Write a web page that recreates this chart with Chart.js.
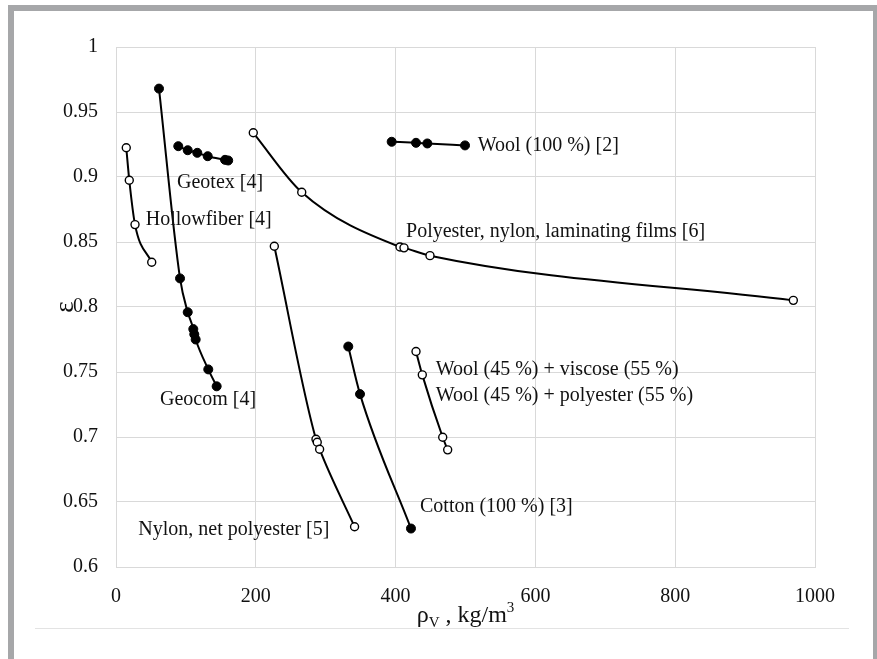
<!DOCTYPE html>
<html><head><meta charset="utf-8">
<script src="https://cdn.jsdelivr.net/npm/chart.js@4.4.1/dist/chart.umd.min.js"></script>
<style>
html,body{margin:0;padding:0;background:#fff;width:877px;height:659px;overflow:hidden;}
#frame{position:absolute;left:8px;top:5px;width:871px;height:720px;border:6px solid #a6a7a9;box-sizing:border-box;}
#rule{position:absolute;left:35px;top:628px;width:814px;height:1px;background:#e3e3e3;}
canvas{position:absolute;left:0;top:0;}
</style></head><body>
<div id="frame"></div><div id="rule"></div>
<canvas id="c" width="877" height="659"></canvas>
<script>
// ---- tick labels ----
const xTicks = [0, 200, 400, 600, 800, 1000];
const yTicks = [0.6, 0.65, 0.7, 0.75, 0.8, 0.85, 0.9, 0.95, 1];

// ---- series (x: density kg/m3, y: porosity) ----
const geocomX = [61.5, 91.6, 102.6, 110.6, 112, 114, 132, 144];
const geocomY = [0.968, 0.822, 0.796, 0.783, 0.779, 0.775, 0.752, 0.739];

const geotexX = [89.1, 102.6, 116.3, 131.2, 156, 160.5];
const geotexY = [0.9237, 0.9206, 0.9186, 0.916, 0.9132, 0.9127];

const hollowX = [14.7, 19.0, 27.2, 51.1];
const hollowY = [0.9225, 0.8975, 0.8634, 0.8344];

const polyX = [196.4, 265.7, 406.3, 412, 449.2, 969];
const polyY = [0.934, 0.8883, 0.8462, 0.8455, 0.8395, 0.8051];

const wool100X = [394.4, 429.2, 445.4, 499.3];
const wool100Y = [0.9271, 0.9263, 0.9258, 0.9243];

const nylonX = [226.5, 286.1, 287.9, 291.3, 341.3];
const nylonY = [0.8467, 0.6983, 0.696, 0.6906, 0.631];

const cottonX = [332.3, 349.1, 422];
const cottonY = [0.7696, 0.733, 0.6296];

const woolBlendX = [429.2, 438.2, 467.4, 474.5];
const woolBlendY = [0.7658, 0.7478, 0.6998, 0.6901];

// ---- annotation texts and their anchors (data units) ----
const labelTexts = ['Geotex [4]', 'Hollowfiber [4]', 'Geocom [4]', 'Wool (100 %) [2]',
  'Polyester, nylon, laminating films [6]', 'Wool (45 %) + viscose (55 %)',
  'Wool (45 %) + polyester (55 %)', 'Cotton (100 %) [3]', 'Nylon, net polyester [5]'];
const labelX = [87.3, 42.5, 62.9, 517.4, 414.9, 457.4, 457.4, 434.9, 305.2];
const labelY = [0.8958, 0.8673, 0.7286, 0.9243, 0.8582, 0.7517, 0.7319, 0.6464, 0.6284];
const labelAlign = ['left','left','left','left','left','left','left','left','right'];

const FONT = "'Liberation Serif', 'Times New Roman', serif";

function pts(xs, ys) { return xs.map((x, i) => ({x: x, y: ys[i]})); }
function series(xs, ys, filled) {
  return {
    data: pts(xs, ys),
    showLine: true,
    borderColor: '#000',
    borderWidth: 2,
    cubicInterpolationMode: 'monotone',
    pointRadius: filled ? 4.5 : 4,
    pointBorderWidth: filled ? 1 : 1.4,
    pointBackgroundColor: filled ? '#000' : '#fff',
    pointBorderColor: '#000'
  };
}

const labelPlugin = {
  id: 'labels',
  afterDatasetsDraw(chart) {
    const ctx = chart.ctx, xs = chart.scales.x, ys = chart.scales.y;
    ctx.save();
    ctx.font = '20px ' + FONT;
    ctx.fillStyle = '#111';
    ctx.textBaseline = 'middle';
    labelTexts.forEach((t, i) => {
      ctx.textAlign = labelAlign[i];
      ctx.fillText(t, xs.getPixelForValue(labelX[i]), ys.getPixelForValue(labelY[i]));
    });
    ctx.restore();
  }
};

const xTitlePlugin = {
  id: 'xtitle',
  afterDraw(chart) {
    const ctx = chart.ctx, a = chart.chartArea;
    const parts = [
      {t: 'ρ', s: 24, dy: 0},
      {t: 'V', s: 15, dy: 5},
      {t: ' , kg/m', s: 24, dy: 0},
      {t: '3', s: 15, dy: -10}
    ];
    ctx.save();
    ctx.fillStyle = '#111';
    ctx.textBaseline = 'alphabetic';
    ctx.textAlign = 'left';
    let total = 0;
    parts.forEach(p => { ctx.font = p.s + 'px ' + FONT; p.w = ctx.measureText(p.t).width; total += p.w; });
    let x = (a.left + a.right) / 2 - total / 2;
    const base = 622;
    parts.forEach(p => { ctx.font = p.s + 'px ' + FONT; ctx.fillText(p.t, x, base + p.dy); x += p.w; });
    ctx.restore();
  }
};

new Chart(document.getElementById('c'), {
  type: 'scatter',
  data: {
    datasets: [
      series(geocomX, geocomY, true),
      series(geotexX, geotexY, true),
      series(hollowX, hollowY, false),
      series(polyX, polyY, false),
      series(wool100X, wool100Y, true),
      series(nylonX, nylonY, false),
      series(cottonX, cottonY, true),
      series(woolBlendX, woolBlendY, false)
    ]
  },
  options: {
    responsive: false,
    animation: false,
    devicePixelRatio: 1,
    layout: {padding: {top: 47, right: 62, bottom: 52, left: 0}},
    plugins: {legend: {display: false}, tooltip: {enabled: false}},
    scales: {
      x: {
        type: 'linear', min: 0, max: 1000,
        afterBuildTicks: s => { s.ticks = xTicks.map(v => ({value: v})); },
        afterFit: s => { s.height = 40; },
        grid: {color: '#d9d9d9', lineWidth: 1, drawTicks: false},
        border: {color: '#d9d9d9'},
        ticks: {padding: 18, color: '#111', font: {family: FONT, size: 20}, maxRotation: 0,
                callback: v => String(v)}
      },
      y: {
        type: 'linear', min: 0.6, max: 1,
        afterBuildTicks: s => { s.ticks = yTicks.map(v => ({value: v})); },
        afterFit: s => { s.width = 116; },
        grid: {color: '#d9d9d9', lineWidth: 1, drawTicks: false},
        border: {color: '#d9d9d9'},
        ticks: {padding: 18, color: '#111', font: {family: FONT, size: 20},
                callback: v => String(Number(v.toFixed(2)))},
        title: {display: true, text: 'ε', color: '#111', font: {family: FONT, size: 27},
                padding: {top: 50, bottom: 0}}
      }
    }
  },
  plugins: [labelPlugin, xTitlePlugin]
});
</script>
</body></html>
